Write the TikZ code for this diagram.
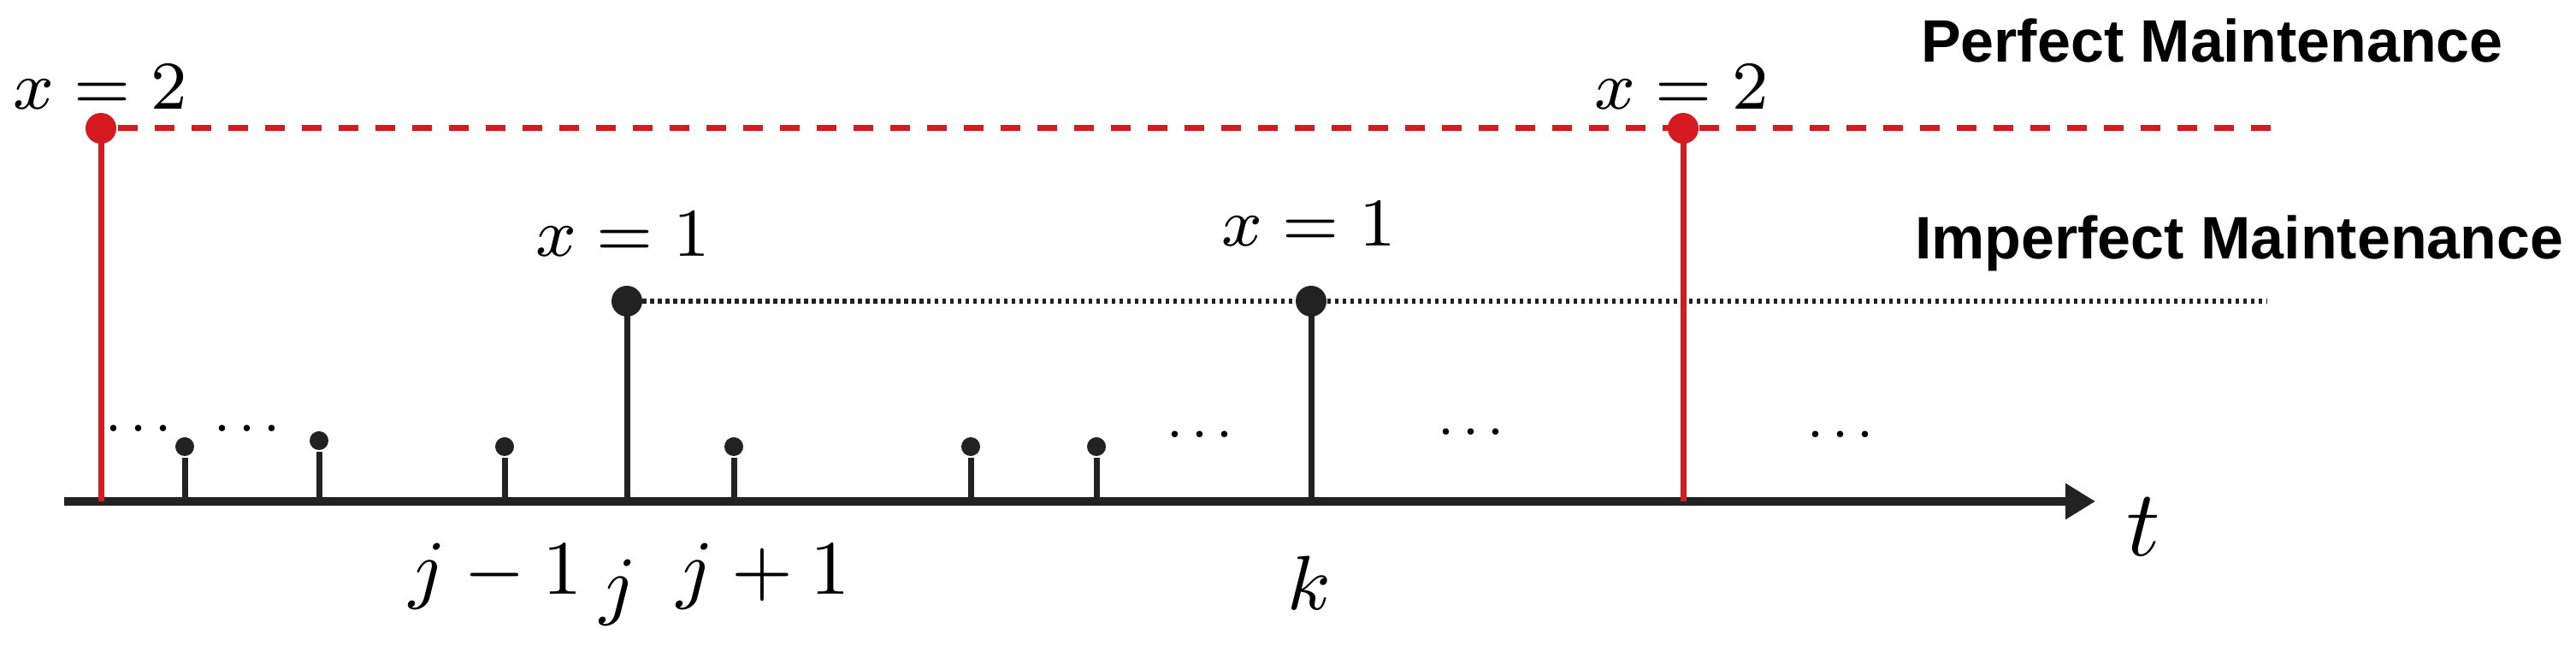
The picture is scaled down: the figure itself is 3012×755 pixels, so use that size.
\documentclass[tikz,border=0pt]{standalone}
\usepackage{fontspec}
\newfontfamily\lsans{Liberation Sans}
\usetikzlibrary{arrows.meta}
\definecolor{mred}{HTML}{D71920}
\definecolor{mblk}{HTML}{222222}
\newcommand{\mydots}{.\kern0.13em.\kern0.13em.}
\begin{document}
\begin{tikzpicture}[x=0.1pt,y=-0.1pt,
  reddot/.style={circle,fill=mred,inner sep=0pt,minimum size=3.6pt},
  bigdot/.style={circle,fill=mblk,inner sep=0pt,minimum size=3.6pt},
  smalldot/.style={circle,fill=mblk,inner sep=0pt,minimum size=2.2pt},
  redstem/.style={draw=mred,line width=0.7pt},
  blkstem/.style={draw=mblk,line width=0.7pt},
  lbl/.style={anchor=base,inner sep=0pt,font=\fontsize{7.9}{9}\selectfont},
  ticklbl/.style={anchor=base,inner sep=0pt,font=\fontsize{9}{11}\selectfont},
  ell/.style={anchor=base,inner sep=0pt,font=\fontsize{6.5}{7}\selectfont},
  maint/.style={anchor=base west,inner sep=0pt,font=\lsans\bfseries\fontsize{7}{8}\selectfont},
]
\useasboundingbox (0,0) rectangle (3012,755);

% axis
\coordinate (a0) at (75,586);
\coordinate (a1) at (2450,586);
\draw[line width=1pt,mblk,-{Triangle[length=3.5pt,width=4pt]}] (a0) -- (a1);
\node[anchor=base,inner sep=0pt,font=\fontsize{11}{13}\selectfont] (tl) at (2506,650) {$t$};

% base coordinates
\coordinate (r1b) at (118,586);
\coordinate (r2b) at (1968,586);
\coordinate (b1b) at (733,586);
\coordinate (b2b) at (1533,586);
\coordinate (s1b) at (216,586);
\coordinate (s2b) at (373,586);
\coordinate (s3b) at (590,586);
\coordinate (s4b) at (858,586);
\coordinate (s5b) at (1135,586);
\coordinate (s6b) at (1282,586);

% dots (positions)
\coordinate (r1c) at (118,150);
\coordinate (r2c) at (1968,150);
\coordinate (b1c) at (733,352);
\coordinate (b2c) at (1533,352);
\coordinate (redend) at (2666,150);
\coordinate (blkend) at (2650,352);

% horizontal level lines
\draw[mred,line width=0.7pt,dash pattern=on 2.3pt off 2pt,dash phase=2.3pt] (r1c) -- (redend);
\draw[mblk,line width=0.55pt,dash pattern=on 0.45pt off 0.45pt] (b1c) -- (blkend);

% stems
\draw[redstem] (r1b) -- (r1c);
\draw[redstem] (r2b) -- (r2c);
\draw[blkstem] (b1b) -- (b1c);
\draw[blkstem] (b2b) -- (b2c);
\node[smalldot] (s1) at (216,522) {};
\node[smalldot] (s2) at (373,515) {};
\node[smalldot] (s3) at (590,522) {};
\node[smalldot] (s4) at (858,522) {};
\node[smalldot] (s5) at (1135,522) {};
\node[smalldot] (s6) at (1282,522) {};
\draw[blkstem] (s1b) -- (s1);
\draw[blkstem] (s2b) -- (s2);
\draw[blkstem] (s3b) -- (s3);
\draw[blkstem] (s4b) -- (s4);
\draw[blkstem] (s5b) -- (s5);
\draw[blkstem] (s6b) -- (s6);

\node[reddot] (r1) at (r1c) {};
\node[reddot] (r2) at (r2c) {};
\node[bigdot] (b1) at (b1c) {};
\node[bigdot] (b2) at (b2c) {};

% value labels
\node[lbl] (x2a) at (117,128) {$x=2$};
\node[lbl] (x2b) at (1966,128) {$x=2$};
\node[lbl] (x1a) at (728,300) {$x=1$};
\node[lbl] (x1b) at (1530,288) {$x=1$};

% tick labels
\node[ticklbl] (jm) at (580,695) {$j-1$};
\node[ticklbl] (jj) at (723,714) {$j$};
\node[ticklbl] (jp) at (893,695) {$j+1$};
\node[ticklbl] (kk) at (1531,713) {$k$};

% ellipses
\node[ell] (e1) at (162,505) {\mydots};
\node[ell] (e2) at (289,505) {\mydots};
\node[ell] (e3) at (1403,512) {\mydots};
\node[ell] (e4) at (1720,509) {\mydots};
\node[ell] (e5) at (2152,512) {\mydots};

% legend texts
\node[maint] (pm) at (2244,73) {Perfect Maintenance};
\node[maint] (im) at (2237,303) {Imperfect Maintenance};
\end{tikzpicture}
\end{document}
